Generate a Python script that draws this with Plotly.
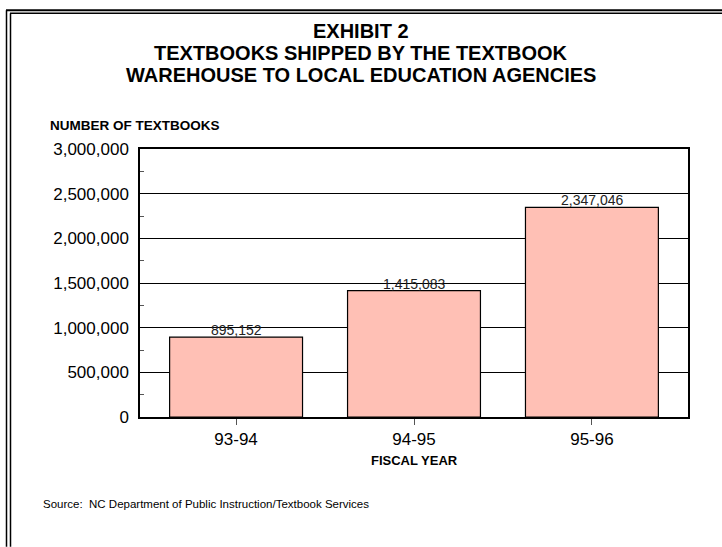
import plotly.graph_objects as go

categories = ["93-94", "94-95", "95-96"]
textbooks = [895152, 1415083, 2347046]
title_lines = ["EXHIBIT 2", "TEXTBOOKS SHIPPED BY THE TEXTBOOK",
               "WAREHOUSE TO LOCAL EDUCATION AGENCIES"]

W, H = 722, 547
L, R, T, B = 140, 688, 148.5, 417


def px(x):
    return (x - L) / (R - L)


def py(y):
    return (B - y) / (B - T)


FONT = "Liberation Sans, Arial, sans-serif"

fig = go.Figure()
fig.add_trace(go.Bar(
    x=categories, y=textbooks,
    width=0.747,
    marker=dict(color="#FFC0B5", line=dict(color="black", width=1.2)),
    cliponaxis=False,
))

for c, v in zip(categories, textbooks):
    fig.add_annotation(x=c, y=v, text=f"{v:,}", showarrow=False,
                       yanchor="bottom", xanchor="center", yshift=-3,
                       font=dict(family=FONT, size=14, color="#222"))

fig.update_layout(
    width=W, height=H,
    margin=dict(l=L, r=W - R, t=T, b=H - B),
    paper_bgcolor="white", plot_bgcolor="white",
    showlegend=False,
    font=dict(family=FONT, color="black"),
    xaxis=dict(
        range=[-0.54, 2.54], showline=True, linecolor="black", linewidth=1.5,
        mirror=True, ticks="outside", ticklen=6, tickcolor="#555",
        tickfont=dict(size=17, family=FONT), showgrid=False, fixedrange=True,
    ),
    yaxis=dict(
        range=[0, 3000000], dtick=500000, tickformat=",",
        showline=True, linecolor="black", linewidth=1.5, mirror=True,
        showgrid=True, gridcolor="black", gridwidth=1,
        ticks="", tickfont=dict(size=17, family=FONT), ticklabelstandoff=6,
        minor=dict(dtick=250000, ticks="inside", ticklen=4, tickcolor="#555", showgrid=False),
        zeroline=False,
    ),
)

for i, line in enumerate(title_lines):
    fig.add_annotation(
        x=px(361), y=py(30 + 22 * i), xref="paper", yref="paper",
        text=f"<b>{line}</b>", showarrow=False, xanchor="center", yanchor="middle",
        font=dict(family=FONT, size=20, color="black"),
    )
fig.add_annotation(
    x=px(48), y=py(125), xref="paper", yref="paper",
    text="<b>NUMBER OF TEXTBOOKS</b>", showarrow=False,
    xanchor="left", yanchor="middle", font=dict(family=FONT, size=13.5, color="black"),
)
fig.add_annotation(
    x=px(414), y=py(461), xref="paper", yref="paper",
    text="<b>FISCAL YEAR</b>", showarrow=False,
    xanchor="center", yanchor="middle", font=dict(family=FONT, size=13, color="black"),
)
fig.add_annotation(
    x=px(41), y=py(504), xref="paper", yref="paper",
    text="Source:  NC Department of Public Instruction/Textbook Services", showarrow=False,
    xanchor="left", yanchor="middle", font=dict(family=FONT, size=11.5, color="black"),
)

# page border (double line)
for x0, y0, x1, y1, w in [
    (6.5, 9.5, 6.5, 547, 1.5),
    (10.5, 12.5, 10.5, 547, 1.5),
    (6, 9.5, 722, 9.5, 2),
    (10, 12.5, 722, 12.5, 1.5),
]:
    fig.add_shape(type="line", xref="paper", yref="paper",
                  x0=px(x0), y0=py(y0), x1=px(x1), y1=py(y1),
                  line=dict(color="black", width=w))

fig.write_html("out.html")
